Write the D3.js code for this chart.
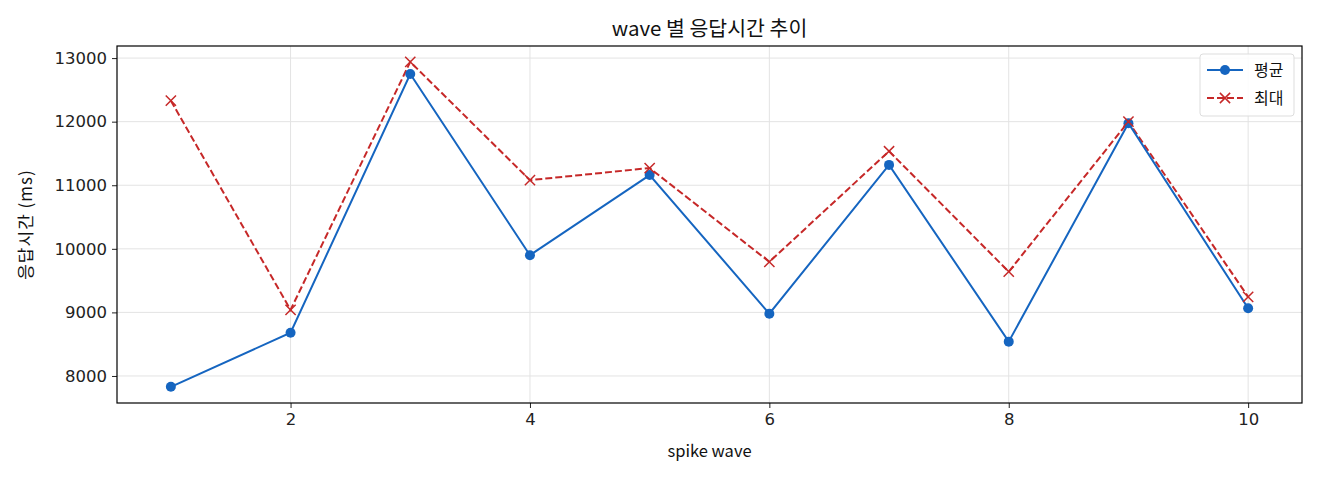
<!DOCTYPE html>
<html>
<head>
<meta charset="utf-8">
<script src="https://cdn.jsdelivr.net/npm/d3@7"></script>
<style>
  body { margin: 0; background: #fff; }
  svg { font-family: "Noto Sans CJK KR", "Noto Sans", sans-serif; }
</style>
</head>
<body>
<svg id="chart"></svg>
<script>
const waves = [1, 2, 3, 4, 5, 6, 7, 8, 9, 10];
const avgMs = [7830, 8680, 12750, 9900, 11160, 8980, 11320, 8540, 11975, 9065];
const maxMs = [12330, 9040, 12940, 11080, 11270, 9795, 11535, 9640, 12000, 9245];
const xTicks = [2, 4, 6, 8, 10];
const yTicks = [8000, 9000, 10000, 11000, 12000, 13000];
const seriesNames = ['평균', '최대'];

const chartWidth = 1320;
const chartHeight = 480;
const margin = { top: 46, right: 18, bottom: 77, left: 117 };
const plotWidth = chartWidth - margin.left - margin.right;
const plotHeight = chartHeight - margin.top - margin.bottom;

const blue = '#1565c0';
const red = '#c62828';

const svg = d3.select('#chart')
    .attr('width', chartWidth)
    .attr('height', chartHeight);

const g = svg.append('g')
    .attr('transform', `translate(${margin.left},${margin.top})`);

const x = d3.scaleLinear()
    .domain([0.55, 10.45])
    .range([0, plotWidth]);

const y = d3.scaleLinear()
    .domain([7575, 13190])
    .range([plotHeight, 0]);

// grid
g.append('g')
    .selectAll('line')
    .data(xTicks)
    .join('line')
    .attr('x1', d => x(d)).attr('x2', d => x(d))
    .attr('y1', 0).attr('y2', plotHeight)
    .attr('stroke', '#e3e3e3').attr('stroke-width', 1);

g.append('g')
    .selectAll('line')
    .data(yTicks)
    .join('line')
    .attr('x1', 0).attr('x2', plotWidth)
    .attr('y1', d => y(d)).attr('y2', d => y(d))
    .attr('stroke', '#e3e3e3').attr('stroke-width', 1);

// axes
const xAxis = g.append('g')
    .attr('transform', `translate(0,${plotHeight})`)
    .call(d3.axisBottom(x).tickValues(xTicks).tickFormat(d3.format('d')).tickSize(5).tickPadding(5));

const yAxis = g.append('g')
    .call(d3.axisLeft(y).tickValues(yTicks).tickFormat(d3.format('d')).tickSize(5).tickPadding(5));

[xAxis, yAxis].forEach(a => {
  a.attr('font-family', '"DejaVu Sans", sans-serif').attr('font-size', 16.5);
  a.select('.domain').remove();
  a.selectAll('text').attr('fill', '#222');
  a.selectAll('line').attr('stroke', '#222');
});

g.append('rect')
    .attr('width', plotWidth).attr('height', plotHeight)
    .attr('fill', 'none').attr('stroke', '#000').attr('stroke-width', 1.2);

const rows = waves.map((w, i) => ({ w, avg: avgMs[i], max: maxMs[i] }));

const lineAvg = d3.line().x(d => x(d.w)).y(d => y(d.avg));
const lineMax = d3.line().x(d => x(d.w)).y(d => y(d.max));

g.append('path')
    .datum(rows)
    .attr('fill', 'none')
    .attr('stroke', red)
    .attr('stroke-width', 2)
    .attr('stroke-dasharray', '7,3')
    .attr('d', lineMax);

g.append('path')
    .datum(rows)
    .attr('fill', 'none')
    .attr('stroke', blue)
    .attr('stroke-width', 2)
    .attr('d', lineAvg);

g.append('g')
    .selectAll('circle')
    .data(rows)
    .join('circle')
    .attr('cx', d => x(d.w))
    .attr('cy', d => y(d.avg))
    .attr('r', 5)
    .attr('fill', blue);

const cross = d3.symbol().type(d3.symbolX).size(70);
g.append('g')
    .selectAll('path')
    .data(rows)
    .join('path')
    .attr('transform', d => `translate(${x(d.w)},${y(d.max)})`)
    .attr('d', cross)
    .attr('fill', 'none')
    .attr('stroke', red)
    .attr('stroke-width', 1.5);

// title and labels
svg.append('text')
    .attr('x', margin.left + plotWidth / 2)
    .attr('y', 36)
    .attr('text-anchor', 'middle')
    .attr('font-size', 20.5)
    .attr('fill', '#111')
    .text('wave 별 응답시간 추이');

svg.append('text')
    .attr('x', margin.left + plotWidth / 2)
    .attr('y', 457)
    .attr('text-anchor', 'middle')
    .attr('font-size', 16.5)
    .attr('fill', '#111')
    .text('spike wave');

svg.append('text')
    .attr('transform', `translate(32,${margin.top + plotHeight / 2}) rotate(-90)`)
    .attr('text-anchor', 'middle')
    .attr('font-size', 17)
    .attr('letter-spacing', 1)
    .attr('fill', '#111')
    .text('응답시간 (ms)');

// legend
const legend = g.append('g')
    .attr('transform', `translate(${plotWidth - 102},8)`);

legend.append('rect')
    .attr('width', 94).attr('height', 62)
    .attr('rx', 3)
    .attr('fill', '#fff').attr('fill-opacity', 0.85)
    .attr('stroke', '#ddd');

const legendRows = legend.selectAll('g.item')
    .data(seriesNames)
    .join('g')
    .attr('class', 'item')
    .attr('transform', (d, i) => `translate(7,${16 + i * 28})`);

legendRows.append('line')
    .attr('x1', 0).attr('x2', 36)
    .attr('stroke', (d, i) => i ? red : blue)
    .attr('stroke-width', 2)
    .attr('stroke-dasharray', (d, i) => i ? '7,3' : null);

legendRows.filter((d, i) => i === 0).append('circle')
    .attr('cx', 18).attr('r', 5).attr('fill', blue);

legendRows.filter((d, i) => i === 1).append('path')
    .attr('transform', 'translate(18,0)')
    .attr('d', cross)
    .attr('fill', 'none').attr('stroke', red).attr('stroke-width', 1.5);

legendRows.append('text')
    .attr('x', 47).attr('dy', '0.35em')
    .attr('font-size', 16)
    .attr('fill', '#111')
    .text(d => d);
</script>
</body>
</html>
